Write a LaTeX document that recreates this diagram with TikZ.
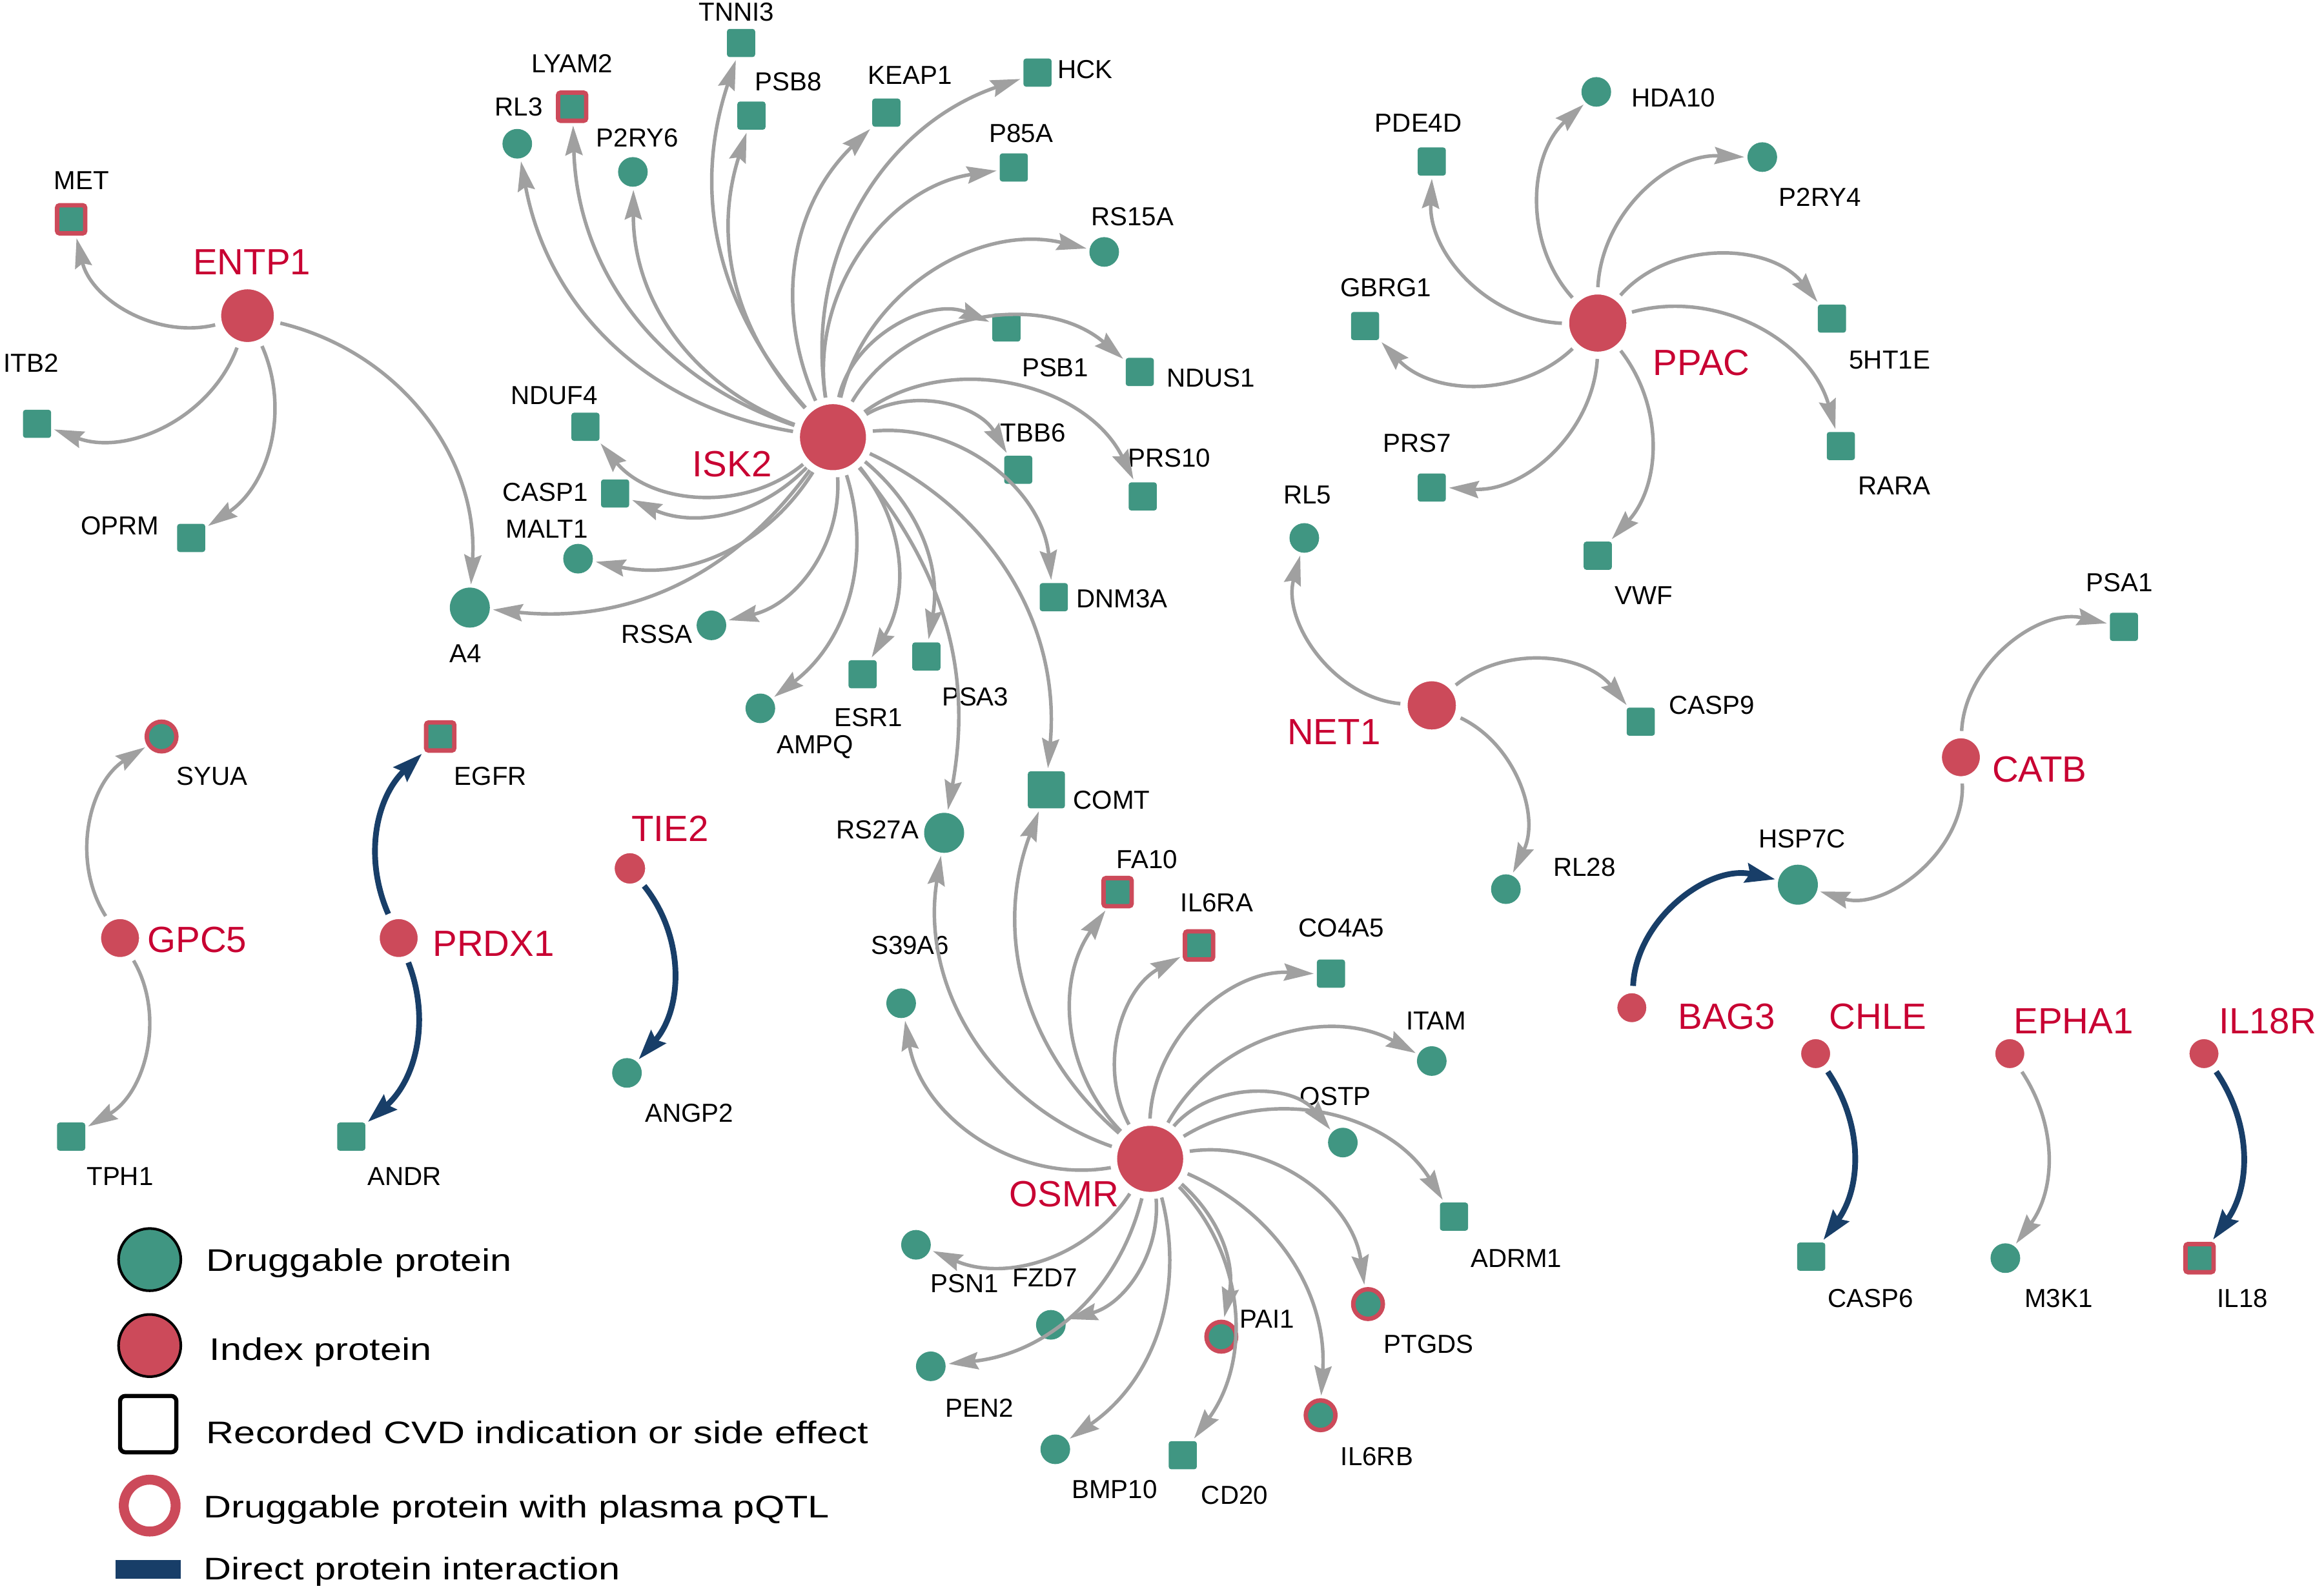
\documentclass[tikz,border=0pt]{standalone}
\usepackage{fontspec}
\setmainfont{Liberation Sans}
\newfontfamily\legfont[FakeStretch=1.23]{Liberation Sans}
\usepackage{xcolor}
\usepackage{tikz}
\usetikzlibrary{arrows.meta}

\definecolor{druggreen}{RGB}{64,150,130}
\definecolor{idxred}{RGB}{204,74,90}
\definecolor{labred}{RGB}{200,0,50}
\definecolor{ppiblue}{RGB}{24,62,104}
\definecolor{edgegray}{RGB}{160,160,160}

\tikzset{
  idx/.style={circle, fill=idxred, draw=white, line width=0.8pt, inner sep=0pt},
  dcirc/.style={circle, fill=druggreen, inner sep=0pt, minimum size=0.4cm},
  dsq/.style={rectangle, rounded corners=1pt, fill=druggreen, inner sep=0pt, minimum size=0.38cm},
  pq/.style={draw=idxred, line width=1.7pt},
  lab/.style={font=\fontsize{10}{12}\selectfont, inner sep=0pt},
  idxlab/.style={font=\fontsize{14}{16}\selectfont, text=labred, inner sep=0pt},
  leg/.style={font=\legfont\fontsize{12}{14}\selectfont, inner sep=0pt, anchor=base west},
  link/.style={color=edgegray, line width=1.35pt, shorten <=2pt, shorten >=1pt,
    -{Stealth[length=0.4cm, width=0.23cm, inset=0.05cm]}},
  ppi/.style={color=ppiblue, line width=2.2pt, shorten <=2pt, shorten >=1pt,
    -{Stealth[length=0.4cm, width=0.26cm, inset=0.05cm]}}
}

\begin{document}
\begin{tikzpicture}[x=0.02cm, y=-0.02cm]
\useasboundingbox (0,0) rectangle (1568,1073.6);

% index proteins
\node[idx, minimum size=0.74cm] (ENTP1) at (167,213) {};
\node[idx, minimum size=0.92cm] (ISK2) at (562,295) {};
\node[idx, minimum size=0.8cm]  (PPAC) at (1078,218) {};
\node[idx, minimum size=0.68cm] (NET1) at (966,476) {};
\node[idx, minimum size=0.54cm] (CATB) at (1323,511) {};
\node[idx, minimum size=0.92cm] (OSMR) at (776,782) {};
\node[idx, minimum size=0.54cm] (GPC5) at (81,633) {};
\node[idx, minimum size=0.54cm] (PRDX1) at (269,633) {};
\node[idx, minimum size=0.44cm] (TIE2) at (425,586) {};
\node[idx, minimum size=0.42cm] (BAG3) at (1101,680) {};
\node[idx, minimum size=0.42cm] (CHLE) at (1225,711) {};
\node[idx, minimum size=0.42cm] (EPHA1) at (1356,711) {};
\node[idx, minimum size=0.42cm] (IL18R) at (1487,711) {};

\node[idxlab] (tENTP1) at (170,177) {ENTP1};
\node[idxlab] (tISK2) at (494,313) {ISK2};
\node[idxlab] (tPPAC) at (1148,245) {PPAC};
\node[idxlab] (tNET1) at (900,494) {NET1};
\node[idxlab] (tCATB) at (1376,519) {CATB};
\node[idxlab] (tOSMR) at (718,806) {OSMR};
\node[idxlab] (tGPC5) at (133,634) {GPC5};
\node[idxlab] (tPRDX1) at (333,637) {PRDX1};
\node[idxlab] (tTIE2) at (452,559) {TIE2};
\node[idxlab] (tBAG3) at (1165,686) {BAG3};
\node[idxlab] (tCHLE) at (1267,686) {CHLE};
\node[idxlab] (tEPHA1) at (1399,689) {EPHA1};
\node[idxlab] (tIL18R) at (1530,689) {IL18R};

% ENTP1 side
\node[dsq, pq] (MET) at (48,148) {};
\node[dsq] (ITB2) at (25,286) {};
\node[dsq] (OPRM) at (129,363) {};
\node[dcirc, minimum size=0.54cm] (A4) at (317,410) {};
\node[lab] (tMET) at (55,122) {MET};
\node[lab] (tITB2) at (21,245) {ITB2};
\node[lab] (tOPRM) at (81,355) {OPRM};
\node[lab] (tA4) at (314,441) {A4};

% ISK2 side
\node[dsq] (TNNI3) at (500,29) {};
\node[dsq, pq] (LYAM2) at (386,72) {};
\node[dcirc] (RL3) at (349,97) {};
\node[dcirc] (P2RY6) at (427,116) {};
\node[dsq] (PSB8) at (507,78) {};
\node[dsq] (KEAP1) at (598,76) {};
\node[dsq] (HCK) at (700,49) {};
\node[dsq] (P85A) at (684,113) {};
\node[dcirc] (RS15A) at (745,170) {};
\node[dsq] (PSB1) at (679,221) {};
\node[dsq] (NDUS1) at (769,251) {};
\node[dsq] (TBB6) at (687,317) {};
\node[dsq] (PRS10) at (771,335) {};
\node[dsq] (DNM3A) at (711,403) {};
\node[dsq, minimum size=0.5cm] (COMT) at (706,533) {};
\node[dcirc, minimum size=0.54cm] (RS27A) at (637,562) {};
\node[dsq] (PSA3) at (625,443) {};
\node[dsq] (ESR1) at (582,455) {};
\node[dcirc] (AMPQ) at (513,478) {};
\node[dcirc] (RSSA) at (480,422) {};
\node[dcirc] (MALT1) at (390,377) {};
\node[dsq] (CASP1) at (415,333) {};
\node[dsq] (NDUF4) at (395,288) {};
\node[lab] (tTNNI3) at (497,8) {TNNI3};
\node[lab] (tLYAM2) at (386,43) {LYAM2};
\node[lab] (tRL3) at (350,72) {RL3};
\node[lab] (tP2RY6) at (430,93) {P2RY6};
\node[lab] (tPSB8) at (532,55) {PSB8};
\node[lab] (tKEAP1) at (614,51) {KEAP1};
\node[lab] (tHCK) at (732,47) {HCK};
\node[lab] (tP85A) at (689,90) {P85A};
\node[lab] (tRS15A) at (764,146) {RS15A};
\node[lab] (tPSB1) at (712,248) {PSB1};
\node[lab] (tNDUS1) at (817,255) {NDUS1};
\node[lab] (tTBB6) at (697,292) {TBB6};
\node[lab] (tPRS10) at (789,309) {PRS10};
\node[lab] (tDNM3A) at (757,404) {DNM3A};
\node[lab] (tCOMT) at (750,540) {COMT};
\node[lab] (tRS27A) at (592,560) {RS27A};
\node[lab] (tPSA3) at (658,470) {PSA3};
\node[lab] (tESR1) at (586,484) {ESR1};
\node[lab] (tAMPQ) at (550,504) {AMPQ};
\node[lab] (tRSSA) at (443,428) {RSSA};
\node[lab] (tMALT1) at (369,357) {MALT1};
\node[lab] (tCASP1) at (368,332) {CASP1};
\node[lab] (tNDUF4) at (374,267) {NDUF4};

% PPAC side
\node[dcirc] (HDA10) at (1077,62) {};
\node[dcirc] (P2RY4) at (1189,106) {};
\node[dsq] (5HT1E) at (1236,215) {};
\node[dsq] (RARA) at (1242,301) {};
\node[dsq] (VWF) at (1078,375) {};
\node[dsq] (PRS7) at (966,329) {};
\node[dsq] (GBRG1) at (921,220) {};
\node[dsq] (PDE4D) at (966,109) {};
\node[lab] (tHDA10) at (1129,66) {HDA10};
\node[lab] (tP2RY4) at (1228,133) {P2RY4};
\node[lab] (t5HT1E) at (1275,243) {5HT1E};
\node[lab] (tRARA) at (1278,328) {RARA};
\node[lab] (tVWF) at (1109,402) {VWF};
\node[lab] (tPRS7) at (956,299) {PRS7};
\node[lab] (tGBRG1) at (935,194) {GBRG1};
\node[lab] (tPDE4D) at (957,83) {PDE4D};

% NET1, CATB, BAG3
\node[dcirc] (RL5) at (880,363) {};
\node[dsq] (CASP9) at (1107,487) {};
\node[dcirc] (RL28) at (1016,600) {};
\node[dsq] (PSA1) at (1433,423) {};
\node[dcirc, minimum size=0.54cm] (HSP7C) at (1213,597) {};
\node[lab] (tRL5) at (882,334) {RL5};
\node[lab] (tCASP9) at (1155,476) {CASP9};
\node[lab] (tRL28) at (1069,585) {RL28};
\node[lab] (tPSA1) at (1430,393) {PSA1};
\node[lab] (tHSP7C) at (1216,566) {HSP7C};

% small pairs
\node[dcirc, pq] (SYUA) at (109,497) {};
\node[dsq] (TPH1) at (48,767) {};
\node[dsq, pq] (EGFR) at (297,497) {};
\node[dsq] (ANDR) at (237,767) {};
\node[dcirc] (ANGP2) at (423,724) {};
\node[dsq] (CASP6) at (1222,848) {};
\node[dcirc] (M3K1) at (1353,849) {};
\node[dsq, pq] (IL18) at (1484,849) {};
\node[lab] (tSYUA) at (143,524) {SYUA};
\node[lab] (tTPH1) at (81,794) {TPH1};
\node[lab] (tEGFR) at (331,524) {EGFR};
\node[lab] (tANDR) at (273,794) {ANDR};
\node[lab] (tANGP2) at (465,751) {ANGP2};
\node[lab] (tCASP6) at (1262,876) {CASP6};
\node[lab] (tM3K1) at (1389,876) {M3K1};
\node[lab] (tIL18) at (1513,876) {IL18};

% OSMR side
\node[dcirc] (S39A6) at (608,677) {};
\node[dsq, pq] (FA10) at (754,602) {};
\node[dsq, pq] (IL6RA) at (809,638) {};
\node[dsq] (CO4A5) at (898,657) {};
\node[dcirc] (ITAM) at (966,716) {};
\node[dcirc] (OSTP) at (906,771) {};
\node[dsq] (ADRM1) at (981,821) {};
\node[dcirc, pq] (PTGDS) at (923,880) {};
\node[dcirc, pq] (IL6RB) at (891,955) {};
\node[dcirc, pq] (PAI1) at (824,902) {};
\node[dsq] (CD20) at (798,982) {};
\node[dcirc] (BMP10) at (712,978) {};
\node[dcirc] (PEN2) at (628,922) {};
\node[dcirc] (FZD7) at (709,894) {};
\node[dcirc] (PSN1) at (618,840) {};
\node[lab] (tS39A6) at (614,638) {S39A6};
\node[lab] (tFA10) at (774,580) {FA10};
\node[lab] (tIL6RA) at (821,609) {IL6RA};
\node[lab] (tCO4A5) at (905,626) {CO4A5};
\node[lab] (tITAM) at (969,689) {ITAM};
\node[lab] (tOSTP) at (901,740) {OSTP};
\node[lab] (tADRM1) at (1023,849) {ADRM1};
\node[lab] (tPTGDS) at (964,907) {PTGDS};
\node[lab] (tIL6RB) at (929,983) {IL6RB};
\node[lab] (tPAI1) at (855,890) {PAI1};
\node[lab] (tCD20) at (833,1009) {CD20};
\node[lab] (tBMP10) at (752,1005) {BMP10};
\node[lab] (tPEN2) at (661,950) {PEN2};
\node[lab] (tFZD7) at (705,862) {FZD7};
\node[lab] (tPSN1) at (651,866) {PSN1};

\path[link]
  (ENTP1) edge[bend left=45] (MET)
          edge[bend left=45] (ITB2)
          edge[bend left=40] (OPRM)
          edge[bend left=40] (A4);

\path[link]
  (ISK2) edge[bend left=30] (TNNI3)
         edge[bend left=35] (LYAM2)
         edge[bend left=35] (RL3)
         edge[bend left=35] (P2RY6)
         edge[bend left=30] (PSB8)
         edge[bend left=35] (KEAP1)
         edge[bend left=40] (HCK)
         edge[bend left=45] (P85A)
         edge[bend left=45] (RS15A)
         edge[bend left=50] (PSB1)
         edge[bend left=50] (NDUS1)
         edge[bend left=45] (TBB6)
         edge[bend left=50] (PRS10)
         edge[bend left=45] (DNM3A)
         edge[bend left=35] (COMT)
         edge[bend left=25] (RS27A)
         edge[bend left=30] (PSA3)
         edge[bend left=35] (ESR1)
         edge[bend left=35] (AMPQ)
         edge[bend left=40] (RSSA)
         edge[bend left=30] (A4)
         edge[bend left=35] (MALT1)
         edge[bend left=35] (CASP1)
         edge[bend left=45] (NDUF4);

\path[link]
  (PPAC) edge[bend left=45] (HDA10)
         edge[bend left=45] (P2RY4)
         edge[bend left=50] (5HT1E)
         edge[bend left=45] (RARA)
         edge[bend left=40] (VWF)
         edge[bend left=45] (PRS7)
         edge[bend left=45] (GBRG1)
         edge[bend left=45] (PDE4D);

\path[link]
  (NET1) edge[bend left=50] (RL5)
         edge[bend left=45] (CASP9)
         edge[bend left=45] (RL28)
  (CATB) edge[bend left=50] (PSA1)
         edge[bend left=55] (HSP7C)
  (GPC5) edge[bend left=45] (SYUA)
         edge[bend left=45] (TPH1)
  (EPHA1) edge[bend left=35] (M3K1);

\path[ppi]
  (BAG3) edge[bend left=50] (HSP7C)
  (PRDX1) edge[bend left=35] (EGFR)
          edge[bend left=35] (ANDR)
  (TIE2) edge[bend left=40] (ANGP2)
  (CHLE) edge[bend left=35] (CASP6)
  (IL18R) edge[bend left=35] (IL18);

\path[link]
  (OSMR) edge[bend left=40] (RS27A)
         edge[bend left=35] (COMT)
         edge[bend left=45] (S39A6)
         edge[bend left=40] (FA10)
         edge[bend left=45] (IL6RA)
         edge[bend left=45] (CO4A5)
         edge[bend left=45] (ITAM)
         edge[bend left=50] (OSTP)
         edge[bend left=45] (ADRM1)
         edge[bend left=45] (PTGDS)
         edge[bend left=35] (IL6RB)
         edge[bend left=30] (PAI1)
         edge[bend left=40] (CD20)
         edge[bend left=35] (BMP10)
         edge[bend left=35] (PEN2)
         edge[bend left=40] (FZD7)
         edge[bend left=40] (PSN1);

% legend
\node[circle, fill=druggreen, draw=black, line width=1pt, minimum size=0.84cm] (kDrug) at (101,850) {};
\node[circle, fill=idxred, draw=black, line width=1pt, minimum size=0.84cm] (kIdx) at (101,908) {};
\node[rectangle, rounded corners=2pt, draw=black, line width=1.6pt, minimum size=0.76cm] (kCVD) at (100,961) {};
\node[circle, draw=idxred, line width=3.8pt, minimum size=0.7cm] (kPQ) at (101,1016) {};
\node[rectangle, fill=ppiblue, minimum width=0.88cm, minimum height=0.26cm, inner sep=0pt] (kPPI) at (100,1059) {};
\node[leg] (tDrug) at (139,858) {Druggable protein};
\node[leg] (tIdx) at (141,918) {Index protein};
\node[leg] (tCVD) at (139,974) {Recorded CVD indication or side effect};
\node[leg] (tPQ) at (137,1024) {Druggable protein with plasma pQTL};
\node[leg] (tPPI) at (137,1066) {Direct protein interaction};
\end{tikzpicture}
\end{document}
